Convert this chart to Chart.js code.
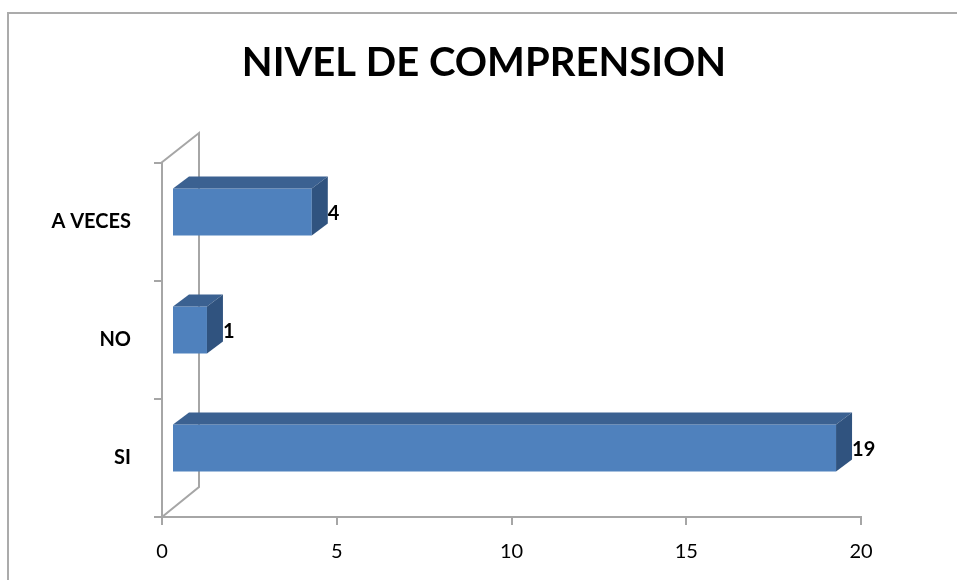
<!DOCTYPE html>
<html>
<head>
<meta charset="utf-8">
<script src="https://cdn.jsdelivr.net/npm/chart.js@4/dist/chart.umd.min.js"></script>
<style>
  body { margin: 0; background: #fff; }
  #wrap { width: 957px; height: 580px; }
</style>
</head>
<body>
<div id="wrap"><canvas id="myChart" width="957" height="580"></canvas></div>
<script>
// chart data
const titleText = 'NIVEL DE COMPRENSION';
const categories = ['A VECES', 'NO', 'SI'];
const values = [4, 1, 19];
const xMin = 0;
const xMax = 20;
const xStep = 5;

const FONT = 'Lato, "Liberation Sans", sans-serif';
const AXIS_GRAY = '#a6a6a6';

// 3d look: wall depth, bar shift inside the box and bar depth
const WALL = { dx: 38, dy: -30 };
const SHIFT = { dx: 10, dy: -10 };
const DEPTH = { dx: 16, dy: -12 };

const framePlugin = {
    id: 'frame',
    beforeDraw(chart) {
        const ctx = chart.ctx;
        ctx.save();
        ctx.fillStyle = '#ffffff';
        ctx.fillRect(0, 0, chart.width, chart.height);
        ctx.fillStyle = '#ababab';
        ctx.fillRect(7, 12, chart.width - 7, 2);
        ctx.fillRect(7, 12, 2, chart.height - 12);
        ctx.restore();
    }
};

const wallPlugin = {
    id: 'wall',
    beforeDatasetsDraw(chart) {
        const { ctx, chartArea } = chart;
        const l = chartArea.left, t = chartArea.top, b = chartArea.bottom;
        ctx.save();
        ctx.strokeStyle = AXIS_GRAY;
        ctx.lineWidth = 2;
        ctx.beginPath();
        ctx.moveTo(l - 1, t);
        ctx.lineTo(l - 1 + WALL.dx, t + WALL.dy);
        ctx.lineTo(l - 1 + WALL.dx, b + WALL.dy);
        ctx.lineTo(l, b);
        ctx.stroke();
        ctx.restore();
    }
};

const barPlugin = {
    id: 'bars3d',
    beforeDatasetDraw(chart) {
        chart.ctx.save();
        chart.ctx.translate(SHIFT.dx, SHIFT.dy);
    },
    afterDatasetDraw(chart, args) {
        const ctx = chart.ctx;
        const meta = args.meta;
        meta.data.forEach((bar, i) => {
            const { x, y, base, height } = bar.getProps(['x', 'y', 'base', 'height'], true);
            const top = y - height / 2;
            const bottom = y + height / 2;
            // top face
            ctx.fillStyle = '#3b6191';
            ctx.beginPath();
            ctx.moveTo(base, top);
            ctx.lineTo(base + DEPTH.dx, top + DEPTH.dy);
            ctx.lineTo(x + DEPTH.dx, top + DEPTH.dy);
            ctx.lineTo(x, top);
            ctx.closePath();
            ctx.fill();
            // side face
            ctx.fillStyle = '#30537f';
            ctx.beginPath();
            ctx.moveTo(x, top);
            ctx.lineTo(x + DEPTH.dx, top + DEPTH.dy);
            ctx.lineTo(x + DEPTH.dx, bottom + DEPTH.dy);
            ctx.lineTo(x, bottom);
            ctx.closePath();
            ctx.fill();
            // value label
            ctx.fillStyle = '#000';
            ctx.font = 'bold 20px ' + FONT;
            ctx.textAlign = 'left';
            ctx.textBaseline = 'middle';
            ctx.fillText(values[i], x + DEPTH.dx, y + 2);
        });
        ctx.restore();
    }
};

const ctx = document.getElementById('myChart');
new Chart(ctx, {
    type: 'bar',
    data: {
        labels: categories,
        datasets: [{
            data: values,
            backgroundColor: '#4f81bd',
            borderWidth: 0,
            categoryPercentage: 1,
            barPercentage: 0.4
        }]
    },
    options: {
        indexAxis: 'y',
        responsive: false,
        animation: false,
        layout: { padding: { left: 11, right: 0, top: 0, bottom: 0 } },
        plugins: {
            legend: { display: false },
            tooltip: { enabled: false },
            title: {
                display: true,
                text: titleText,
                color: '#000',
                font: { family: FONT, size: 40, weight: 'bold', lineHeight: 1.2 },
                padding: { top: 39, bottom: 76 }
            }
        },
        scales: {
            x: {
                min: xMin,
                max: xMax,
                ticks: { stepSize: xStep, color: '#000', padding: 15, font: { family: FONT, size: 20 } },
                grid: { drawOnChartArea: false, drawTicks: true, tickLength: 8, color: AXIS_GRAY, lineWidth: 2 },
                border: { display: true, color: AXIS_GRAY, width: 2 },
                afterFit(scale) { scale.height = 63; }
            },
            y: {
                ticks: { color: '#000', padding: 23, font: { family: FONT, size: 20, weight: 'bold' } },
                grid: { drawOnChartArea: false, drawTicks: true, tickLength: 8, color: AXIS_GRAY, lineWidth: 2 },
                border: { display: true, color: AXIS_GRAY, width: 2 },
                afterFit(scale) { scale.width = 151; }
            },
            // empty space on the right, keeps the title centred like the original
            pad: {
                type: 'linear',
                axis: 'y',
                position: 'right',
                display: true,
                ticks: { display: false },
                grid: { display: false },
                border: { display: false },
                afterFit(scale) { scale.width = 96; }
            }
        }
    },
    plugins: [framePlugin, wallPlugin, barPlugin]
});
</script>
</body>
</html>
